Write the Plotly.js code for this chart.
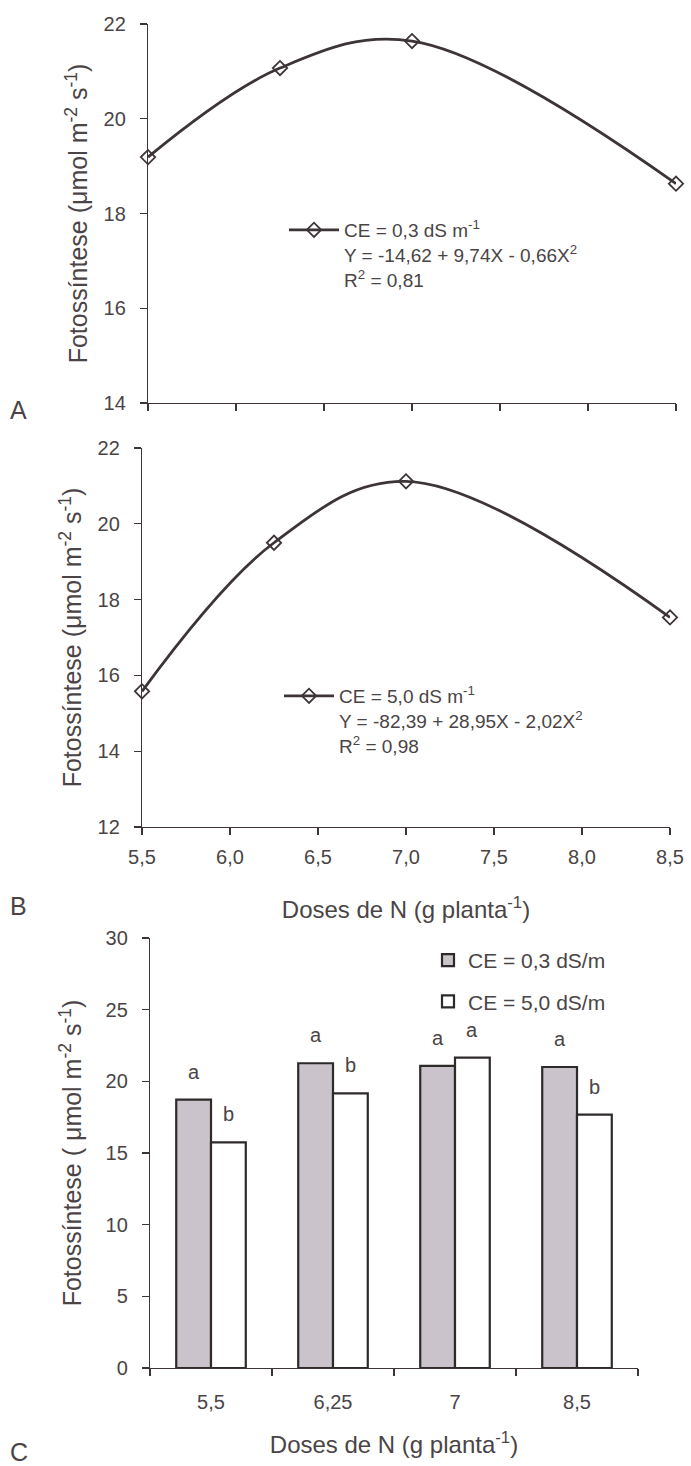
<!DOCTYPE html>
<html>
<head>
<meta charset="utf-8">
<script src="https://cdn.plot.ly/plotly-3.0.1.min.js"></script>
<style>
html,body{margin:0;padding:0;background:#fff;}
#chart{width:691px;height:1466px;}
</style>
</head>
<body>
<div id="chart"></div>
<script>
// Panel A and B: doses of N (x) and photosynthesis (y)
const doses = [5.5, 6.25, 7.0, 8.5];
const photoA = [19.19, 21.07, 21.64, 18.63];
const photoB = [15.58, 19.50, 21.12, 17.53];
const nameA = 'CE = 0,3 dS m<sup>-1</sup><br>Y = -14,62 + 9,74X - 0,66X<sup>2</sup><br>R<sup>2</sup> = 0,81';
const nameB = 'CE = 5,0 dS m<sup>-1</sup><br>Y = -82,39 + 28,95X - 2,02X<sup>2</sup><br>R<sup>2</sup> = 0,98';

// Panel C: bars
const catsC = ['5,5', '6,25', '7', '8,5'];
const barLow = [18.73, 21.26, 21.08, 21.00];
const barHigh = [15.74, 19.16, 21.66, 17.68];
const lettersLow = ['a', 'a', 'a', 'a'];
const lettersHigh = ['b', 'b', 'a', 'b'];
const nameC1 = 'CE = 0,3 dS/m';
const nameC2 = 'CE = 5,0 dS/m';

const W = 691, H = 1466;
const px = v => v / W;
const py = v => 1 - v / H;

const ink = '#3d3438';
const txt = '#4a4446';
const FONT = 'Liberation Sans, Arial, sans-serif';

const lineStyle = {color: ink, width: 2.8, shape: 'spline', smoothing: 1.05};
const markerStyle = {symbol: 'diamond-open', size: 11, color: ink, line: {color: ink, width: 1.8}};

const traces = [
  {x: doses, y: photoA, type: 'scatter', mode: 'lines+markers', name: nameA,
   line: lineStyle, marker: markerStyle, xaxis: 'x', yaxis: 'y', legend: 'legend', cliponaxis: false},
  {x: doses, y: photoB, type: 'scatter', mode: 'lines+markers', name: nameB,
   line: lineStyle, marker: markerStyle, xaxis: 'x2', yaxis: 'y2', legend: 'legend2', cliponaxis: false},
  {x: catsC, y: barLow, type: 'bar', name: nameC1, xaxis: 'x3', yaxis: 'y3', legend: 'legend3',
   legendgroup: 'g1',
   marker: {color: '#cbc3cb', line: {color: '#2e2a2a', width: 2.2}}},
  {x: catsC, y: barHigh, type: 'bar', name: nameC2, xaxis: 'x3', yaxis: 'y3', legend: 'legend3',
   legendgroup: 'g2',
   marker: {color: '#ffffff', line: {color: '#2e2a2a', width: 2.2}}}
];

const bargap = 0.43;
const half = (1 - bargap) / 4;
const annotations = [];
catsC.forEach((c, i) => {
  annotations.push({xref: 'x3', yref: 'y3', x: i - half, y: barLow[i], text: lettersLow[i],
    showarrow: false, yanchor: 'bottom', yshift: 15, font: {family: FONT, size: 20, color: txt}});
  annotations.push({xref: 'x3', yref: 'y3', x: i + half, y: barHigh[i], text: lettersHigh[i],
    showarrow: false, yanchor: 'bottom', yshift: 15, font: {family: FONT, size: 20, color: txt}});
});
[['A', 410], ['B', 906], ['C', 1452]].forEach(([t, y]) => {
  annotations.push({xref: 'paper', yref: 'paper', x: px(8), y: py(y), xanchor: 'left', yanchor: 'middle',
    text: t, showarrow: false, font: {family: FONT, size: 25, color: txt}});
});

const axisCommon = {
  showline: true, linecolor: ink, linewidth: 1.2, ticks: 'outside', ticklen: 7, tickwidth: 1.2,
  tickcolor: ink, showgrid: false, zeroline: false, automargin: false,
  tickfont: {family: FONT, size: 20, color: txt}
};
const yTitleA = 'Fotossíntese (μmol m<sup>-2</sup> s<sup>-1</sup>)';
const yTitleC = 'Fotossíntese ( μmol m<sup>-2</sup> s<sup>-1</sup>)';
const xTitle = 'Doses de N (g planta<sup>-1</sup>)';
const titleFont = {family: FONT, size: 24, color: txt};
const yTitleFont = {family: FONT, size: 25, color: txt};

const layout = {
  width: W, height: H,
  margin: {l: 0, r: 0, t: 0, b: 0},
  paper_bgcolor: '#fff', plot_bgcolor: '#fff',
  separators: ',.',
  font: {family: FONT, color: txt},
  barmode: 'group', bargap: bargap, bargroupgap: 0,
  xaxis: Object.assign({}, axisCommon, {domain: [px(148), px(676)], range: [5.5, 8.5], dtick: 0.5,
    showticklabels: false, anchor: 'y'}),
  yaxis: Object.assign({}, axisCommon, {domain: [py(403), py(24)], range: [14, 22], dtick: 2, anchor: 'x',
    ticklabelstandoff: 10,
    title: {text: yTitleA, font: yTitleFont, standoff: 8}}),
  xaxis2: Object.assign({}, axisCommon, {domain: [px(142), px(670)], range: [5.5, 8.5], dtick: 0.5,
    tickformat: '.1f', anchor: 'y2', ticklabelstandoff: 5,
    title: {text: xTitle, font: titleFont, standoff: 34}}),
  yaxis2: Object.assign({}, axisCommon, {domain: [py(827), py(448)], range: [12, 22], dtick: 2, anchor: 'x2',
    ticklabelstandoff: 10,
    title: {text: yTitleA, font: yTitleFont, standoff: 8}}),
  xaxis3: Object.assign({}, axisCommon, {domain: [px(150), px(638)], type: 'category', tickson: 'boundaries',
    anchor: 'y3', ticklabelstandoff: 16,
    title: {text: xTitle, font: titleFont, standoff: 24}}),
  yaxis3: Object.assign({}, axisCommon, {domain: [py(1368), py(938)], range: [0, 30], dtick: 5, anchor: 'x3',
    ticklabelstandoff: 10,
    title: {text: yTitleC, font: yTitleFont, standoff: 16}}),
  legend: {x: px(284), y: py(211), xanchor: 'left', yanchor: 'top', valign: 'top', bgcolor: 'rgba(0,0,0,0)',
    itemwidth: 50, font: {family: FONT, size: 19, color: txt}},
  legend2: {x: px(279), y: py(677), xanchor: 'left', yanchor: 'top', valign: 'top', bgcolor: 'rgba(0,0,0,0)',
    itemwidth: 50, font: {family: FONT, size: 19, color: txt}},
  legend3: {x: px(428), y: py(940), xanchor: 'left', yanchor: 'top', bgcolor: 'rgba(0,0,0,0)',
    tracegroupgap: 11, itemwidth: 30, traceorder: 'grouped',
    font: {family: FONT, size: 21, color: txt}},
  annotations: annotations,
  showlegend: true
};

Plotly.newPlot('chart', traces, layout, {displayModeBar: false, staticPlot: true});
</script>
</body>
</html>
